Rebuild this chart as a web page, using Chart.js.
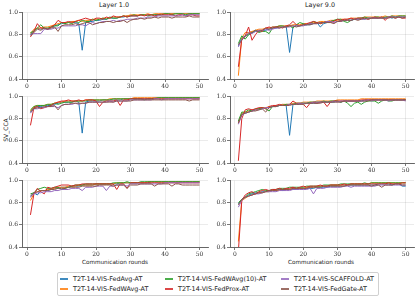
<!DOCTYPE html>
<html>
<head>
<meta charset="utf-8">
<script src="https://cdn.jsdelivr.net/npm/chart.js@4.4.1/dist/chart.umd.min.js"></script>
<style>
  body { margin: 0; background: #fff; }
  #fig { position: relative; width: 415px; height: 297px; overflow: hidden; font-family: "DejaVu Sans", sans-serif; color: #222; }
  canvas { position: absolute; }
  .txt { position: absolute; white-space: nowrap; transform: translate(-50%, -50%); }
  #legend { position: absolute; left: 57px; top: 272px; width: 320px; height: 22px; border: 1px solid #d0d0d0; border-radius: 2px; }
  .item { position: absolute; font-size: 6.4px; white-space: nowrap; line-height: 8px; }
  .item i { position: absolute; left: -13px; top: 3px; width: 8px; height: 1.5px; opacity: 0.85; }
</style>
</head>
<body>
<div id="fig">
  <div class="txt" style="left:114px;top:5px;font-size:6.4px">Layer 1.0</div>
  <div class="txt" style="left:320px;top:5px;font-size:6.4px">Layer 9.0</div>
  <div class="txt" style="left:5px;top:130px;font-size:6px;transform:translate(-50%,-50%) rotate(-90deg)">SV_CCA</div>
  <div class="txt" style="left:115px;top:262px;font-size:5.7px">Communication rounds</div>
  <div class="txt" style="left:321px;top:262px;font-size:5.7px">Communication rounds</div>
  <div id="legend"></div>
</div>
<script>
const methods = ['T2T-14-VIS-FedAvg-AT', 'T2T-14-VIS-FedWAvg-AT', 'T2T-14-VIS-FedWAvg(10)-AT',
                 'T2T-14-VIS-FedProx-AT', 'T2T-14-VIS-SCAFFOLD-AT', 'T2T-14-VIS-FedGate-AT'];
const colors = ['#1f77b4', '#ff7f0e', '#2ca02c', '#d62728', '#9467bd', '#8c564b'];
const rounds = [1,2,3,4,5,6,7,8,9,10,11,12,13,14,15,16,17,18,19,20,21,22,23,24,25,
                26,27,28,29,30,31,32,33,34,35,36,37,38,39,40,41,42,43,44,45,46,47,48,49,50];
const xTicks = [0, 10, 20, 30, 40, 50];
const yTicks = [0.4, 0.6, 0.8, 1.0];

// row 1, Layer 1.0
const r1L1_avg = [.80,.84,.86,.85,.86,.85,.87,.88,.89,.90,.91,.91,.92,.91,.90,.66,.91,.92,.92,.93,.93,.94,.94,.95,.95,.95,.96,.96,.97,.97,.97,.97,.98,.98,.98,.98,.98,.98,.99,.99,.99,.99,.99,.99,.99,.99,.99,.99,.99,.99];
const r1L1_wavg = [.81,.85,.86,.86,.87,.87,.88,.89,.90,.91,.91,.91,.92,.92,.93,.92,.93,.93,.94,.94,.94,.95,.95,.95,.96,.96,.96,.97,.97,.98,.98,.98,.98,.98,.99,.98,.99,.99,.99,.99,.99,.99,.99,.99,.99,.99,.99,.99,.99,.99];
const r1L1_wavg10 = [.82,.83,.86,.89,.86,.86,.87,.88,.88,.91,.90,.91,.90,.92,.91,.93,.92,.92,.94,.93,.94,.95,.94,.96,.95,.95,.96,.97,.96,.97,.98,.97,.98,.98,.97,.98,.98,.98,.98,.99,.99,.98,.99,.99,.99,.98,.99,.99,.99,.99];
const r1L1_prox = [.78,.83,.90,.86,.86,.85,.87,.89,.93,.91,.91,.92,.91,.92,.93,.94,.95,.94,.93,.95,.95,.94,.96,.95,.97,.96,.96,.97,.96,.97,.97,.97,.98,.97,.98,.98,.97,.98,.98,.98,.98,.98,.97,.98,.98,.97,.98,.98,.97,.97];
const r1L1_scaf = [.80,.81,.81,.81,.85,.85,.85,.86,.86,.88,.88,.88,.88,.88,.89,.89,.88,.90,.91,.90,.91,.92,.92,.92,.93,.92,.93,.93,.94,.94,.94,.95,.95,.95,.96,.96,.96,.97,.97,.97,.97,.97,.97,.97,.98,.97,.98,.98,.98,.98];
const r1L1_gate = [.79,.82,.85,.84,.86,.85,.86,.87,.83,.88,.89,.89,.89,.90,.89,.90,.91,.91,.89,.90,.91,.91,.92,.92,.91,.92,.92,.93,.91,.93,.94,.94,.95,.94,.95,.95,.96,.95,.96,.96,.96,.95,.96,.96,.96,.96,.97,.96,.96,.96];

// row 1, Layer 9.0
const r1L9_avg = [.70,.77,.79,.80,.82,.83,.83,.84,.84,.85,.86,.86,.87,.87,.88,.64,.87,.88,.88,.89,.89,.89,.90,.91,.87,.90,.91,.92,.93,.92,.93,.93,.94,.93,.94,.94,.95,.94,.95,.95,.95,.95,.96,.95,.96,.95,.96,.96,.96,.96];
const r1L9_wavg = [.43,.77,.82,.82,.83,.84,.85,.85,.86,.86,.87,.87,.88,.88,.88,.88,.89,.89,.89,.90,.90,.90,.91,.91,.92,.92,.92,.93,.93,.93,.94,.94,.94,.95,.95,.95,.95,.96,.96,.96,.96,.96,.96,.97,.96,.97,.97,.97,.97,.97];
const r1L9_wavg10 = [.72,.79,.76,.80,.82,.84,.82,.83,.83,.81,.86,.87,.88,.88,.87,.88,.86,.89,.91,.90,.89,.90,.92,.91,.90,.91,.92,.92,.93,.94,.94,.92,.91,.93,.94,.95,.95,.96,.95,.95,.96,.96,.95,.96,.96,.97,.96,.97,.97,.97];
const r1L9_prox = [.51,.76,.79,.87,.75,.80,.84,.83,.86,.87,.86,.87,.87,.86,.88,.89,.92,.89,.88,.89,.90,.91,.92,.91,.90,.91,.92,.91,.92,.94,.93,.94,.94,.95,.94,.95,.95,.95,.94,.95,.96,.95,.96,.93,.96,.96,.95,.96,.95,.95];
const r1L9_scaf = [.69,.76,.78,.82,.81,.83,.84,.84,.85,.84,.85,.86,.86,.87,.87,.87,.88,.88,.88,.88,.89,.90,.90,.90,.91,.91,.92,.92,.91,.92,.92,.93,.93,.93,.94,.94,.94,.94,.95,.95,.95,.95,.95,.95,.96,.96,.96,.96,.96,.96];
const r1L9_gate = [.71,.75,.79,.81,.82,.84,.83,.84,.86,.85,.87,.87,.86,.87,.87,.88,.88,.87,.88,.89,.89,.89,.90,.90,.91,.91,.91,.91,.90,.92,.92,.93,.93,.93,.94,.93,.94,.95,.94,.95,.95,.95,.95,.95,.95,.96,.95,.96,.95,.96];

// row 2, Layer 1.0
const r2L1_avg = [.86,.90,.91,.91,.92,.92,.92,.93,.94,.95,.95,.95,.95,.96,.95,.67,.95,.96,.96,.96,.96,.97,.97,.97,.97,.97,.97,.98,.98,.98,.98,.98,.98,.98,.98,.98,.99,.99,.99,.99,.99,.99,.99,.99,.99,.99,.99,.99,.99,.99];
const r2L1_wavg = [.87,.91,.92,.92,.92,.93,.93,.94,.95,.95,.96,.96,.96,.96,.96,.96,.97,.97,.97,.97,.97,.97,.97,.98,.98,.98,.98,.98,.98,.98,.99,.99,.99,.99,.99,.99,.99,.99,.99,.99,.99,.99,.99,.99,.99,.99,.99,.99,.99,.99];
const r2L1_wavg10 = [.88,.91,.92,.92,.92,.93,.93,.94,.93,.94,.95,.95,.95,.96,.96,.96,.96,.97,.97,.97,.97,.97,.97,.97,.98,.98,.98,.98,.98,.98,.98,.98,.98,.97,.98,.98,.98,.99,.99,.99,.99,.99,.99,.99,.99,.99,.99,.99,.99,.99];
const r2L1_prox = [.74,.90,.91,.89,.90,.91,.92,.94,.95,.96,.96,.97,.96,.96,.97,.96,.97,.97,.97,.96,.91,.95,.96,.96,.96,.97,.92,.97,.97,.98,.98,.98,.98,.98,.98,.98,.98,.98,.98,.98,.98,.98,.98,.98,.98,.98,.98,.98,.98,.98];
const r2L1_scaf = [.85,.89,.89,.90,.90,.91,.91,.91,.90,.92,.93,.93,.93,.94,.93,.94,.94,.95,.95,.95,.95,.95,.95,.96,.95,.96,.96,.96,.96,.97,.97,.97,.97,.97,.97,.97,.98,.98,.97,.98,.98,.98,.98,.98,.98,.98,.98,.98,.98,.98];
const r2L1_gate = [.86,.89,.90,.90,.91,.91,.91,.92,.88,.92,.93,.93,.94,.94,.94,.94,.94,.95,.95,.95,.95,.95,.95,.95,.95,.96,.96,.96,.96,.96,.97,.97,.97,.97,.97,.97,.97,.97,.97,.97,.97,.97,.97,.97,.97,.97,.96,.97,.97,.97];

// row 2, Layer 9.0
const r2L9_avg = [.77,.84,.85,.86,.87,.88,.89,.89,.90,.90,.91,.91,.92,.93,.92,.65,.93,.93,.93,.94,.94,.94,.94,.94,.95,.95,.95,.95,.95,.96,.95,.96,.96,.96,.96,.96,.96,.97,.97,.97,.97,.97,.97,.97,.97,.97,.97,.97,.97,.97];
const r2L9_wavg = [.76,.85,.86,.87,.88,.88,.89,.90,.90,.91,.91,.92,.92,.93,.93,.93,.94,.94,.94,.95,.95,.95,.95,.96,.96,.96,.96,.96,.96,.97,.97,.97,.97,.97,.97,.97,.98,.98,.98,.98,.98,.98,.98,.98,.98,.98,.98,.98,.98,.98];
const r2L9_wavg10 = [.78,.86,.86,.88,.87,.89,.89,.90,.89,.87,.91,.91,.92,.92,.93,.93,.93,.94,.94,.94,.94,.95,.95,.95,.95,.96,.95,.96,.96,.96,.95,.96,.94,.91,.94,.95,.93,.95,.96,.96,.96,.94,.96,.97,.96,.96,.97,.97,.97,.97];
const r2L9_prox = [.42,.80,.88,.89,.88,.89,.90,.90,.89,.91,.92,.92,.93,.92,.92,.93,.96,.94,.94,.93,.90,.94,.95,.94,.95,.95,.91,.95,.96,.96,.96,.96,.96,.96,.96,.96,.97,.97,.97,.97,.97,.97,.97,.97,.97,.97,.97,.97,.97,.97];
const r2L9_scaf = [.75,.83,.85,.86,.87,.88,.88,.89,.90,.90,.91,.91,.92,.92,.92,.93,.93,.93,.94,.94,.94,.94,.95,.95,.95,.95,.95,.95,.96,.95,.96,.96,.96,.96,.96,.96,.96,.96,.97,.96,.97,.97,.97,.97,.96,.97,.97,.97,.97,.96];
const r2L9_gate = [.76,.84,.85,.86,.87,.87,.88,.89,.86,.90,.91,.91,.92,.92,.92,.92,.93,.93,.93,.93,.94,.94,.94,.94,.94,.95,.95,.95,.95,.95,.95,.96,.96,.96,.96,.96,.96,.96,.96,.97,.97,.97,.97,.97,.97,.97,.97,.97,.97,.97];

// row 3, Layer 1.0
const r3L1_avg = [.86,.89,.87,.91,.91,.91,.92,.93,.93,.94,.94,.94,.95,.95,.95,.96,.96,.96,.96,.97,.97,.97,.97,.97,.97,.97,.98,.98,.98,.98,.98,.98,.98,.98,.98,.99,.99,.99,.99,.99,.99,.99,.99,.99,.99,.99,.99,.99,.99,.99];
const r3L1_wavg = [.82,.88,.90,.91,.91,.92,.92,.93,.94,.94,.94,.95,.95,.95,.96,.96,.96,.96,.96,.97,.97,.97,.97,.97,.97,.98,.98,.98,.98,.98,.98,.98,.98,.98,.99,.99,.99,.99,.99,.99,.99,.99,.99,.99,.99,.99,.99,.99,.99,.99];
const r3L1_wavg10 = [.88,.89,.92,.93,.94,.93,.93,.94,.94,.92,.93,.94,.95,.96,.96,.96,.97,.97,.97,.97,.97,.97,.97,.97,.98,.98,.98,.98,.99,.98,.98,.98,.99,.99,.99,.99,.99,.99,.99,.99,.99,.99,.99,.99,.99,.99,.99,.99,.99,.99];
const r3L1_prox = [.69,.88,.93,.90,.88,.94,.93,.94,.95,.96,.96,.96,.95,.96,.96,.97,.97,.97,.97,.97,.97,.97,.97,.97,.97,.92,.97,.97,.93,.98,.98,.98,.98,.98,.98,.98,.98,.98,.98,.98,.98,.98,.98,.98,.98,.98,.98,.98,.98,.98];
const r3L1_scaf = [.85,.88,.89,.89,.90,.90,.90,.91,.91,.92,.92,.92,.93,.93,.93,.91,.94,.94,.94,.95,.95,.95,.91,.95,.95,.96,.96,.96,.95,.97,.97,.97,.97,.97,.97,.97,.97,.97,.97,.98,.98,.98,.98,.98,.98,.98,.98,.98,.98,.98];
const r3L1_gate = [.86,.89,.90,.91,.91,.91,.92,.92,.93,.93,.93,.94,.94,.94,.94,.95,.95,.95,.95,.95,.96,.96,.96,.96,.95,.96,.96,.96,.93,.96,.96,.96,.97,.97,.97,.97,.95,.97,.97,.97,.97,.95,.97,.97,.96,.96,.96,.96,.96,.96];

// row 3, Layer 9.0
const r3L9_avg = [.79,.83,.85,.87,.88,.89,.89,.90,.90,.90,.91,.91,.92,.91,.92,.92,.92,.92,.93,.93,.93,.93,.93,.94,.94,.94,.94,.95,.95,.95,.95,.95,.96,.96,.96,.96,.96,.96,.96,.96,.96,.97,.97,.97,.97,.96,.97,.97,.95,.95];
const r3L9_wavg = [.45,.82,.84,.86,.87,.88,.89,.89,.90,.90,.91,.91,.91,.92,.92,.92,.93,.93,.93,.93,.94,.94,.94,.95,.95,.95,.95,.96,.96,.96,.96,.96,.96,.97,.97,.97,.97,.97,.97,.98,.98,.98,.98,.98,.98,.98,.98,.98,.98,.98];
const r3L9_wavg10 = [.80,.83,.85,.88,.89,.90,.91,.92,.91,.91,.92,.92,.93,.93,.93,.94,.94,.94,.94,.94,.95,.95,.95,.95,.95,.96,.96,.96,.96,.96,.97,.97,.97,.97,.97,.97,.97,.98,.97,.98,.98,.98,.98,.98,.98,.98,.98,.98,.98,.98];
const r3L9_prox = [.36,.82,.87,.89,.90,.88,.90,.91,.92,.91,.92,.92,.93,.92,.93,.93,.94,.93,.94,.95,.94,.95,.95,.95,.96,.95,.95,.96,.96,.96,.96,.97,.96,.97,.97,.97,.97,.97,.97,.97,.97,.97,.97,.97,.98,.97,.97,.97,.98,.98];
const r3L9_scaf = [.76,.82,.85,.86,.87,.88,.88,.89,.90,.90,.90,.90,.91,.91,.91,.91,.92,.92,.92,.92,.92,.93,.88,.93,.93,.93,.94,.94,.94,.94,.94,.95,.95,.94,.95,.95,.95,.95,.95,.95,.95,.96,.96,.96,.96,.96,.96,.96,.96,.96];
const r3L9_gate = [.78,.83,.85,.86,.87,.88,.89,.89,.90,.91,.91,.91,.92,.92,.92,.92,.93,.93,.93,.93,.93,.94,.94,.94,.94,.95,.95,.95,.95,.95,.95,.95,.96,.96,.96,.96,.96,.96,.96,.95,.96,.96,.94,.96,.96,.96,.97,.97,.96,.96];

const panels = [
  { left: 0,   top: 8,   series: [r1L1_avg, r1L1_wavg, r1L1_wavg10, r1L1_prox, r1L1_scaf, r1L1_gate] },
  { left: 208, top: 8,   series: [r1L9_avg, r1L9_wavg, r1L9_wavg10, r1L9_prox, r1L9_scaf, r1L9_gate] },
  { left: 0,   top: 92,  series: [r2L1_avg, r2L1_wavg, r2L1_wavg10, r2L1_prox, r2L1_scaf, r2L1_gate] },
  { left: 208, top: 92,  series: [r2L9_avg, r2L9_wavg, r2L9_wavg10, r2L9_prox, r2L9_scaf, r2L9_gate] },
  { left: 0,   top: 176, series: [r3L1_avg, r3L1_wavg, r3L1_wavg10, r3L1_prox, r3L1_scaf, r3L1_gate] },
  { left: 208, top: 176, series: [r3L9_avg, r3L9_wavg, r3L9_wavg10, r3L9_prox, r3L9_scaf, r3L9_gate] }
];

const fig = document.getElementById('fig');
const tickFont = { family: 'DejaVu Serif', size: 6 };

panels.forEach(p => {
  const cv = document.createElement('canvas');
  cv.width = p.left === 0 ? 209 : 207;
  cv.height = 86;
  cv.style.left = p.left + 'px';
  cv.style.top = p.top + 'px';
  fig.appendChild(cv);

  new Chart(cv.getContext('2d'), {
    type: 'line',
    data: {
      datasets: p.series.map((s, i) => ({
        label: methods[i],
        data: s.map((v, k) => ({ x: rounds[k], y: v })),
        borderColor: colors[i],
        borderWidth: 1,
        pointRadius: 0,
        tension: 0,
        order: 6 - i
      }))
    },
    options: {
      responsive: false,
      animation: false,
      devicePixelRatio: 1,
      layout: { padding: { top: 3, right: 1, left: 0, bottom: 0 } },
      plugins: { legend: { display: false }, tooltip: { enabled: false } },
      scales: {
        x: {
          type: 'linear',
          min: -1.45, max: 52.45,
          afterBuildTicks: s => { s.ticks = xTicks.map(v => ({ value: v })); },
          afterFit: s => { s.height = 15; },
          ticks: { font: tickFont, color: '#333', padding: 1, maxRotation: 0, autoSkip: false },
          grid: { color: 'rgba(0,0,0,0.1)', lineWidth: 0.8, tickLength: 3, tickColor: '#555' },
          border: { color: '#666', width: 1 }
        },
        y: {
          min: 0.4, max: 1.0,
          afterBuildTicks: s => { s.ticks = yTicks.map(v => ({ value: v })); },
          afterFit: s => { s.width = 22; },
          ticks: { font: tickFont, color: '#333', padding: 1, callback: v => v.toFixed(1) },
          grid: { color: 'rgba(0,0,0,0.1)', lineWidth: 0.8, tickLength: 3, tickColor: '#555' },
          border: { color: '#666', width: 1 }
        }
      }
    }
  });
});

// legend below the grid
const legend = document.getElementById('legend');
const colX = [15, 120, 236];
methods.forEach((m, i) => {
  const d = document.createElement('div');
  d.className = 'item';
  d.style.left = colX[Math.floor(i / 2)] + 'px';
  d.style.top = (i % 2 === 0 ? 2 : 12) + 'px';
  d.innerHTML = '<i style="background:' + colors[i] + '"></i>' + m;
  legend.appendChild(d);
});
</script>
</body>
</html>
